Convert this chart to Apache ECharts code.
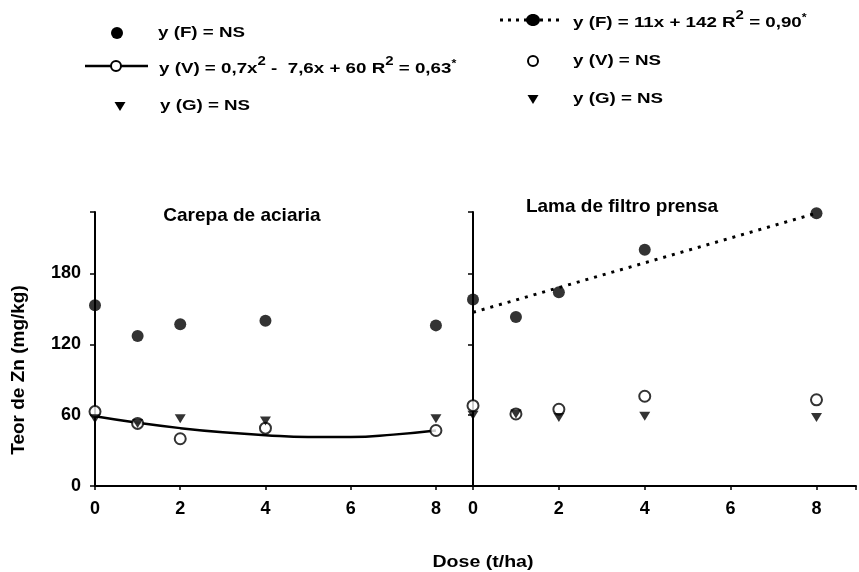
<!DOCTYPE html>
<html>
<head>
<meta charset="utf-8">
<script src="https://cdn.jsdelivr.net/npm/echarts@6/dist/echarts.min.js"></script>
<style>
html,body{margin:0;padding:0;background:#fff;}
#chart{width:859px;height:572px;}
</style>
</head>
<body>
<div id="chart"></div>
<script>
// ---- data ----
const doseCarepa = [0, 1, 2, 4, 8];
const fCarepa = [153, 127, 137, 140, 136];
const vCarepa = [63, 53, 40, 49, 47];
const gCarepa = [57, 53, 57, 55, 57];
const curveDoseCarepa = [0, 1, 2, 3, 4, 5, 6, 7, 8];
const curveVCarepa = [59, 53.5, 49, 45.5, 43, 41.5, 41.5, 43.5, 47];

const doseLama = [0, 1, 2, 4, 8];
const fLama = [158, 143, 164, 200, 231];
const vLama = [68, 61, 65, 76, 73];
const gLama = [60, 61, 58, 59, 58];
const trendDoseLama = [0, 8];
const trendFLama = [147, 231];

const xTicks = [0, 2, 4, 6, 8];
const yTicks = [0, 60, 120, 180];

const panelTitles = ['Carepa de aciaria', 'Lama de filtro prensa'];
const yAxisTitle = 'Teor de Zn (mg/kg)';
const xAxisTitle = 'Dose (t/ha)';

// ---- helpers ----
const FONT = '"Liberation Sans", Arial, Helvetica, sans-serif';
const pairs = (xs, ys) => xs.map((x, i) => [x, ys[i]]);

function xAxisCfg(grid, max) {
  return {
    type: 'value', gridIndex: grid, min: 0, max: max, interval: 2,
    axisLine: { show: true, onZero: false, lineStyle: { color: '#000', width: 2 } },
    axisTick: { show: true, length: 4, lineStyle: { color: '#000', width: 1.5 } },
    splitLine: { show: false },
    axisLabel: {
      margin: 14, color: '#000', fontFamily: FONT, fontWeight: 'bold', fontSize: 18,
      formatter: v => (xTicks.indexOf(v) >= 0 ? String(v) : '')
    }
  };
}
function yAxisCfg(grid, showLabels) {
  return {
    type: 'value', gridIndex: grid, min: 0, max: 232, interval: 60,
    axisLine: { show: true, onZero: false, lineStyle: { color: '#000', width: 2 } },
    axisTick: { show: true, length: 5, lineStyle: { color: '#000', width: 1.5 } },
    splitLine: { show: false },
    axisLabel: {
      show: showLabels, margin: 14, color: '#000', fontFamily: FONT, fontWeight: 'bold', fontSize: 18,
      formatter: v => (yTicks.indexOf(v) >= 0 ? String(v) : '')
    }
  };
}
function scatter(xi, data, kind) {
  const s = { type: 'scatter', xAxisIndex: xi, yAxisIndex: xi, data: data, z: 3, silent: true };
  if (kind === 'F') {
    s.symbol = 'circle'; s.symbolSize = 12; s.itemStyle = { color: '#000' };
  } else if (kind === 'V') {
    s.symbol = 'circle'; s.symbolSize = 11;
    s.itemStyle = { color: '#fff', borderColor: '#000', borderWidth: 2 };
  } else {
    s.symbol = 'triangle'; s.symbolRotate = 180; s.symbolSize = [11, 9];
    s.itemStyle = { color: '#000' };
  }
  return s;
}

// legend / title text helpers
const baseText = { fontFamily: FONT, fontWeight: 'bold', fill: '#000' };
function legendText(x, y, text, rich) {
  return {
    type: 'text', x: x, y: y, scaleX: 1.25, z: 10,
    style: Object.assign({}, baseText, {
      text: text, fontSize: 15, verticalAlign: 'middle', textAlign: 'left',
      rich: rich || undefined
    })
  };
}
const richSup = {
  n: { fontFamily: FONT, fontWeight: 'bold', fontSize: 15, verticalAlign: 'bottom', fill: '#000' },
  s: { fontFamily: FONT, fontWeight: 'bold', fontSize: 12, verticalAlign: 'bottom', padding: [0, 0, 9, 0], fill: '#000' },
  a: { fontFamily: FONT, fontWeight: 'bold', fontSize: 10, verticalAlign: 'bottom', padding: [0, 0, 7, 0], fill: '#000' }
};
function downTri(cx, cy) {
  return { type: 'polygon', shape: { points: [[cx - 5.5, cy - 4], [cx + 5.5, cy - 4], [cx, cy + 5]] }, style: { fill: '#000' } };
}

const graphics = [
  // left legend
  { type: 'circle', shape: { cx: 117, cy: 33, r: 6 }, style: { fill: '#000' } },
  legendText(158, 33, 'y (F) = NS'),
  { type: 'line', shape: { x1: 85, y1: 66, x2: 148, y2: 66 }, style: { stroke: '#000', lineWidth: 2.5 } },
  { type: 'circle', shape: { cx: 116, cy: 66, r: 5 }, style: { fill: '#fff', stroke: '#000', lineWidth: 2 } },
  legendText(159, 66, '{n|y (V) = 0,7x}{s|2}{n| -  7,6x + 60 R}{s|2}{n| = 0,63}{a|*}', richSup),
  downTri(120, 106),
  legendText(160, 106, 'y (G) = NS'),
  // right legend
  { type: 'line', shape: { x1: 500, y1: 20, x2: 560, y2: 20 }, style: { stroke: '#000', lineWidth: 3, lineDash: [3, 5] } },
  { type: 'ellipse', shape: { cx: 533, cy: 20, rx: 7, ry: 6 }, style: { fill: '#000' } },
  legendText(573, 20, '{n|y (F) = 11x + 142 R}{s|2}{n| = 0,90}{a|*}', richSup),
  { type: 'circle', shape: { cx: 533, cy: 61, r: 5 }, style: { fill: '#fff', stroke: '#000', lineWidth: 2 } },
  legendText(573, 61, 'y (V) = NS'),
  downTri(533, 99),
  legendText(573, 99, 'y (G) = NS'),
  // panel titles
  { type: 'text', x: 242, y: 216, style: Object.assign({}, baseText, { text: panelTitles[0], fontSize: 19, textAlign: 'center', verticalAlign: 'middle' }) },
  { type: 'text', x: 622, y: 207, style: Object.assign({}, baseText, { text: panelTitles[1], fontSize: 19, textAlign: 'center', verticalAlign: 'middle' }) },
  // axis titles
  { type: 'text', x: 19, y: 370, rotation: Math.PI / 2,
    style: Object.assign({}, baseText, { text: yAxisTitle, fontSize: 19, textAlign: 'center', verticalAlign: 'middle' }) },
  { type: 'text', x: 483, y: 562, scaleX: 1.15,
    style: Object.assign({}, baseText, { text: xAxisTitle, fontSize: 17, textAlign: 'center', verticalAlign: 'middle' }) }
];

const chart = echarts.init(document.getElementById('chart'), null, { renderer: 'canvas' });
chart.setOption({
  backgroundColor: '#fff',
  animation: false,
  grid: [
    { left: 95, top: 212, width: 378, height: 274 },
    { left: 473, top: 212, width: 386, height: 274 }
  ],
  xAxis: [xAxisCfg(0, 8.87), xAxisCfg(1, 8.92)],
  yAxis: [yAxisCfg(0, true), yAxisCfg(1, false)],
  graphic: graphics,
  series: [
    { type: 'line', xAxisIndex: 0, yAxisIndex: 0, smooth: true, showSymbol: false, silent: true,
      data: pairs(curveDoseCarepa, curveVCarepa), lineStyle: { color: '#000', width: 2.5 }, z: 2 },
    scatter(0, pairs(doseCarepa, vCarepa), 'V'),
    scatter(0, pairs(doseCarepa, gCarepa), 'G'),
    scatter(0, pairs(doseCarepa, fCarepa), 'F'),
    { type: 'line', xAxisIndex: 1, yAxisIndex: 1, showSymbol: false, silent: true,
      data: pairs(trendDoseLama, trendFLama), lineStyle: { color: '#000', width: 3, type: [3, 6] }, z: 2 },
    scatter(1, pairs(doseLama, vLama), 'V'),
    scatter(1, pairs(doseLama, gLama), 'G'),
    scatter(1, pairs(doseLama, fLama), 'F')
  ]
});
</script>
</body>
</html>
